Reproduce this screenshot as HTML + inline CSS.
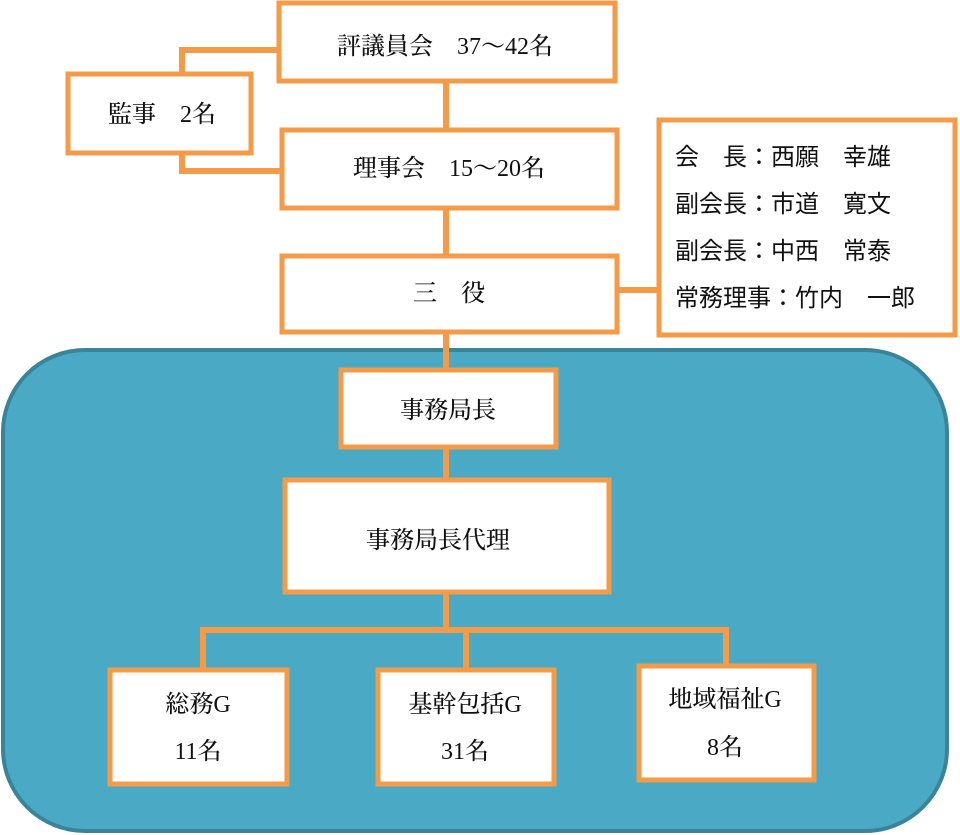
<!DOCTYPE html>
<html><head><meta charset="utf-8"><style>
html,body{margin:0;padding:0;background:#fff;width:960px;height:835px;overflow:hidden}
</style></head><body>
<svg width="960" height="835" viewBox="0 0 960 835" xmlns="http://www.w3.org/2000/svg">
<g fill="none" stroke="#f59a47" stroke-width="6">
<path d="M280 50 H182 V74"/>
<path d="M182 152 V171 H282"/>
<path d="M446 82 V130"/>
<path d="M446 209 V256"/>
<path d="M618 290 H659"/>
</g>
<rect x="3" y="350" width="944" height="481" rx="82" fill="#4aaac6" stroke="#3a8499" stroke-width="4"/>
<g fill="none" stroke="#f59a47" stroke-width="6">
<path d="M446 333 V370"/>
<path d="M446 448 V480"/>
<path d="M446 593 V630"/>
<path d="M203 670 V630 H726 V666"/>
<path d="M466 630 V670"/>
</g>
<g fill="#fff" stroke="#f59a47" stroke-width="5">
<rect x="279" y="3" width="336" height="78"/>
<rect x="68" y="74" width="183" height="79"/>
<rect x="282" y="130" width="335" height="78"/>
<rect x="282" y="256" width="335" height="76"/>
<rect x="659" y="120" width="296" height="215"/>
<rect x="341" y="370" width="215" height="77"/>
<rect x="285" y="480" width="324" height="112"/>
<rect x="110" y="670" width="177" height="114"/>
<rect x="378" y="670" width="176" height="114"/>
<rect x="639" y="666" width="175" height="114"/>
</g>
<g font-family="Liberation Serif, Noto Serif CJK JP, serif" font-size="24" fill="#111" text-anchor="middle" font-weight="500">
<text x="445" y="54">評議員会　37～42名</text>
<text x="162" y="122">監事　2名</text>
<text x="449" y="176">理事会　15～20名</text>
<text x="449" y="301">三　役</text>
<text x="448" y="418">事務局長</text>
<text x="438" y="548">事務局長代理</text>
<text x="198" y="712">総務G</text>
<text x="198" y="759">11名</text>
<text x="465" y="712">基幹包括G</text>
<text x="465" y="759">31名</text>
<text x="725" y="707">地域福祉G</text>
<text x="725" y="755">8名</text>
</g>
<g font-family="Liberation Sans, Noto Sans CJK JP, sans-serif" font-size="24" fill="#111">
<text x="675" y="165">会　長：西願　幸雄</text>
<text x="675" y="212">副会長：市道　寛文</text>
<text x="675" y="259">副会長：中西　常泰</text>
<text x="675" y="306">常務理事：竹内　一郎</text>
</g>
</svg>
</body></html>
